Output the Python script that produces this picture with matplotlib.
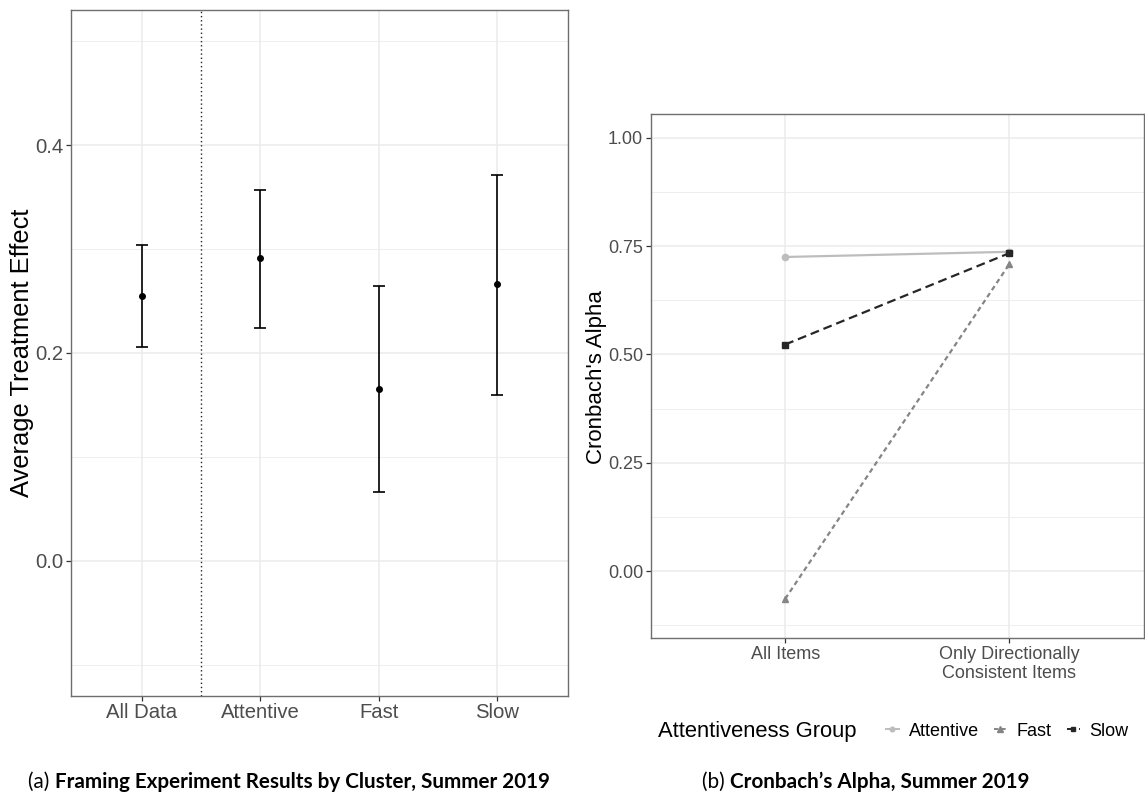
import matplotlib
matplotlib.use("Agg")
import matplotlib.pyplot as plt
from matplotlib.lines import Line2D
from matplotlib.ticker import FixedLocator

# ---- Data: panel (a) ----
clusters = ["All Data", "Attentive", "Fast", "Slow"]
ate_mean = [0.255, 0.291, 0.165, 0.266]
ate_low = [0.206, 0.224, 0.066, 0.160]
ate_high = [0.304, 0.357, 0.264, 0.371]

# ---- Data: panel (b) ----
item_sets = ["All Items", "Only Directionally\nConsistent Items"]
groups = ["Attentive", "Fast", "Slow"]
alpha_attentive = [0.725, 0.737]
alpha_fast = [-0.064, 0.709]
alpha_slow = [0.523, 0.734]
alpha_ticks = [0.00, 0.25, 0.50, 0.75, 1.00]
alpha_tick_labels = ["0.00", "0.25", "0.50", "0.75", "1.00"]

W, H = 1145, 793
fig = plt.figure(figsize=(W / 100, H / 100), dpi=100)
plt.rcParams['font.family'] = ['Liberation Sans', 'DejaVu Sans']

GRID = "#EBEBEB"
BORDER = "#6E6E6E"
TICKTXT = "#4D4D4D"


def style_axes(ax):
    for s in ax.spines.values():
        s.set_color(BORDER)
        s.set_linewidth(1.0)
    ax.set_axisbelow(True)
    ax.grid(True, which="major", color=GRID, linewidth=1.1)
    ax.grid(True, which="minor", axis="y", color=GRID, linewidth=0.6)
    ax.tick_params(which="major", length=3.6, width=0.9, color="#333333",
                   labelcolor=TICKTXT, pad=1.8)
    ax.tick_params(which="minor", length=0)


# ---------------- Panel (a) ----------------
axA = fig.add_axes([71 / W, 1 - 696 / H, (568 - 71) / W, (696 - 10) / H])
xa = list(range(1, len(clusters) + 1))
yerr = [[m - l for m, l in zip(ate_mean, ate_low)],
        [h - m for m, h in zip(ate_mean, ate_high)]]
axA.errorbar(xa, ate_mean, yerr=yerr, fmt="o", color="black", ms=4.0,
             capsize=4.2, elinewidth=1.2, capthick=1.2, zorder=3)
axA.axvline(1.5, color="#222222", linestyle=(0, (1, 2)), linewidth=1.0, zorder=2)
axA.set_xlim(0.4, 4.6)
axA.set_ylim(-0.13, 0.53)
axA.set_xticks(xa)
axA.set_xticklabels(clusters)
axA.yaxis.set_major_locator(FixedLocator([0.0, 0.2, 0.4]))
axA.set_yticklabels(["0.0", "0.2", "0.4"])
axA.yaxis.set_minor_locator(FixedLocator([-0.1, 0.1, 0.3, 0.5]))
style_axes(axA)
axA.tick_params(labelsize=14.6)
fig.text(29 / W, 1 - 353 / H, "Average Treatment Effect", fontsize=18.4,
         rotation=90, rotation_mode="anchor", ha="center", va="baseline",
         color="black")

# ---------------- Panel (b) ----------------
axB = fig.add_axes([650.6 / W, 1 - 638.3 / H, (1144 - 650.6) / W, (638.3 - 114) / H])
xb = list(range(1, len(item_sets) + 1))
series = [
    ("Attentive", alpha_attentive, "#BDBDBD", "-", "o", 4.5),
    ("Fast", alpha_fast, "#858585", (0, (2.2, 1.6)), "^", 5.0),
    ("Slow", alpha_slow, "#262626", (0, (4.0, 2.2)), "s", 4.2),
]
handles = []
for name, vals, col, ls, mk, ms in series:
    axB.plot(xb, vals, color=col, linestyle=ls, linewidth=1.6, marker=mk,
             ms=ms, zorder=3)
    handles.append(Line2D([0], [0], color=col, linestyle=ls, linewidth=1.4,
                          marker=mk, ms=ms - 1.2, label=name))
axB.set_xlim(0.4, 2.6)
axB.set_ylim(-0.155, 1.055)
axB.set_xticks(xb)
axB.set_xticklabels(item_sets, multialignment="center")
axB.yaxis.set_major_locator(FixedLocator(alpha_ticks))
axB.set_yticklabels(alpha_tick_labels)
axB.yaxis.set_minor_locator(FixedLocator([-0.125, 0.125, 0.375, 0.625, 0.875]))
style_axes(axB)
axB.tick_params(labelsize=13.0)
fig.text(602 / W, 1 - 377.5 / H, "Cronbach's Alpha", fontsize=16,
         rotation=90, rotation_mode="anchor", ha="center", va="baseline",
         color="black")

# legend (title on the left)
fig.text(658 / W, 1 - 732 / H, "Attentiveness Group", fontsize=15.8,
         ha="left", va="center", color="black")
fig.legend(handles=handles, loc="center left",
           bbox_to_anchor=(886 / W, 1 - 731 / H), ncol=3, frameon=False,
           fontsize=13, handlelength=0.7, handletextpad=0.55,
           columnspacing=0.85, borderpad=0, borderaxespad=0, numpoints=1)

# ---------------- Captions ----------------
CAP_FONT = ["Lato", "DejaVu Sans"]
CAP_SIZE = 14.9
fig.canvas.draw()
renderer = fig.canvas.get_renderer()


def caption(center_x, y, prefix, body):
    t1 = fig.text(0, y, prefix, family=CAP_FONT, fontsize=CAP_SIZE,
                  ha="left", va="baseline")
    t2 = fig.text(0, y, body, family=CAP_FONT, fontsize=CAP_SIZE,
                  fontweight="bold", ha="left", va="baseline")
    w1 = t1.get_window_extent(renderer).width
    w2 = t2.get_window_extent(renderer).width
    total = w1 + w2
    x0 = center_x - total / 2
    t1.set_x(x0 / W)
    t2.set_x((x0 + w1) / W)


caption(289, 1 - 788 / H, "(a) ", "Framing Experiment Results by Cluster, Summer 2019")
caption(866, 1 - 788 / H, "(b) ", "Cronbach\u2019s Alpha, Summer 2019")

fig.savefig("out.png", dpi=100)
